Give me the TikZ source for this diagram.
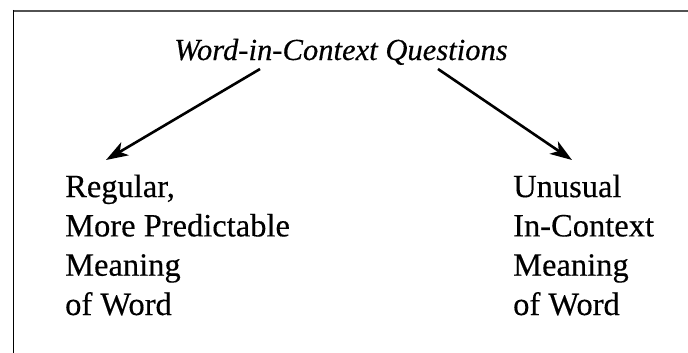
\documentclass[tikz,border=0pt]{standalone}
\usepackage{fontspec}
\setmainfont{Liberation Serif}[FakeBold=0.35]
\usetikzlibrary{arrows.meta}
\begin{document}
\begin{tikzpicture}[x=1pt,y=-1pt,
  lbl/.style={inner sep=0pt, align=left, font=\fontsize{32.5}{39.3}\selectfont},
  ttl/.style={inner sep=0pt, font=\fontsize{30.6}{36}\selectfont\itshape},
  arr/.style={line width=2.6pt, -{Stealth[length=22pt,width=15pt,inset=6pt]}}]
\useasboundingbox (0,0) rectangle (688,353);
% partial frame
\draw[line width=2.2pt, color=black!68] (12.5,11) -- (688,11);
\draw[line width=1.6pt] (13.5,10) -- (13.5,353);
% title
\node[ttl, anchor=base] (title) at (341,60) {Word-in-Context Questions};
% left and right texts (base anchor = last line baseline)
\node[lbl, anchor=base west] (left) at (65,315) {Regular,\\More Predictable\\Meaning\\of Word};
\node[lbl, anchor=base west] (right) at (513,315) {Unusual\\In-Context\\Meaning\\of Word};
% connector ends
\coordinate (ls) at (260,69);
\coordinate (le) at (106,160);
\coordinate (rs) at (438,69);
\coordinate (re) at (572,160);
\draw[arr] (ls) -- (le);
\draw[arr] (rs) -- (re);
\end{tikzpicture}
\end{document}
